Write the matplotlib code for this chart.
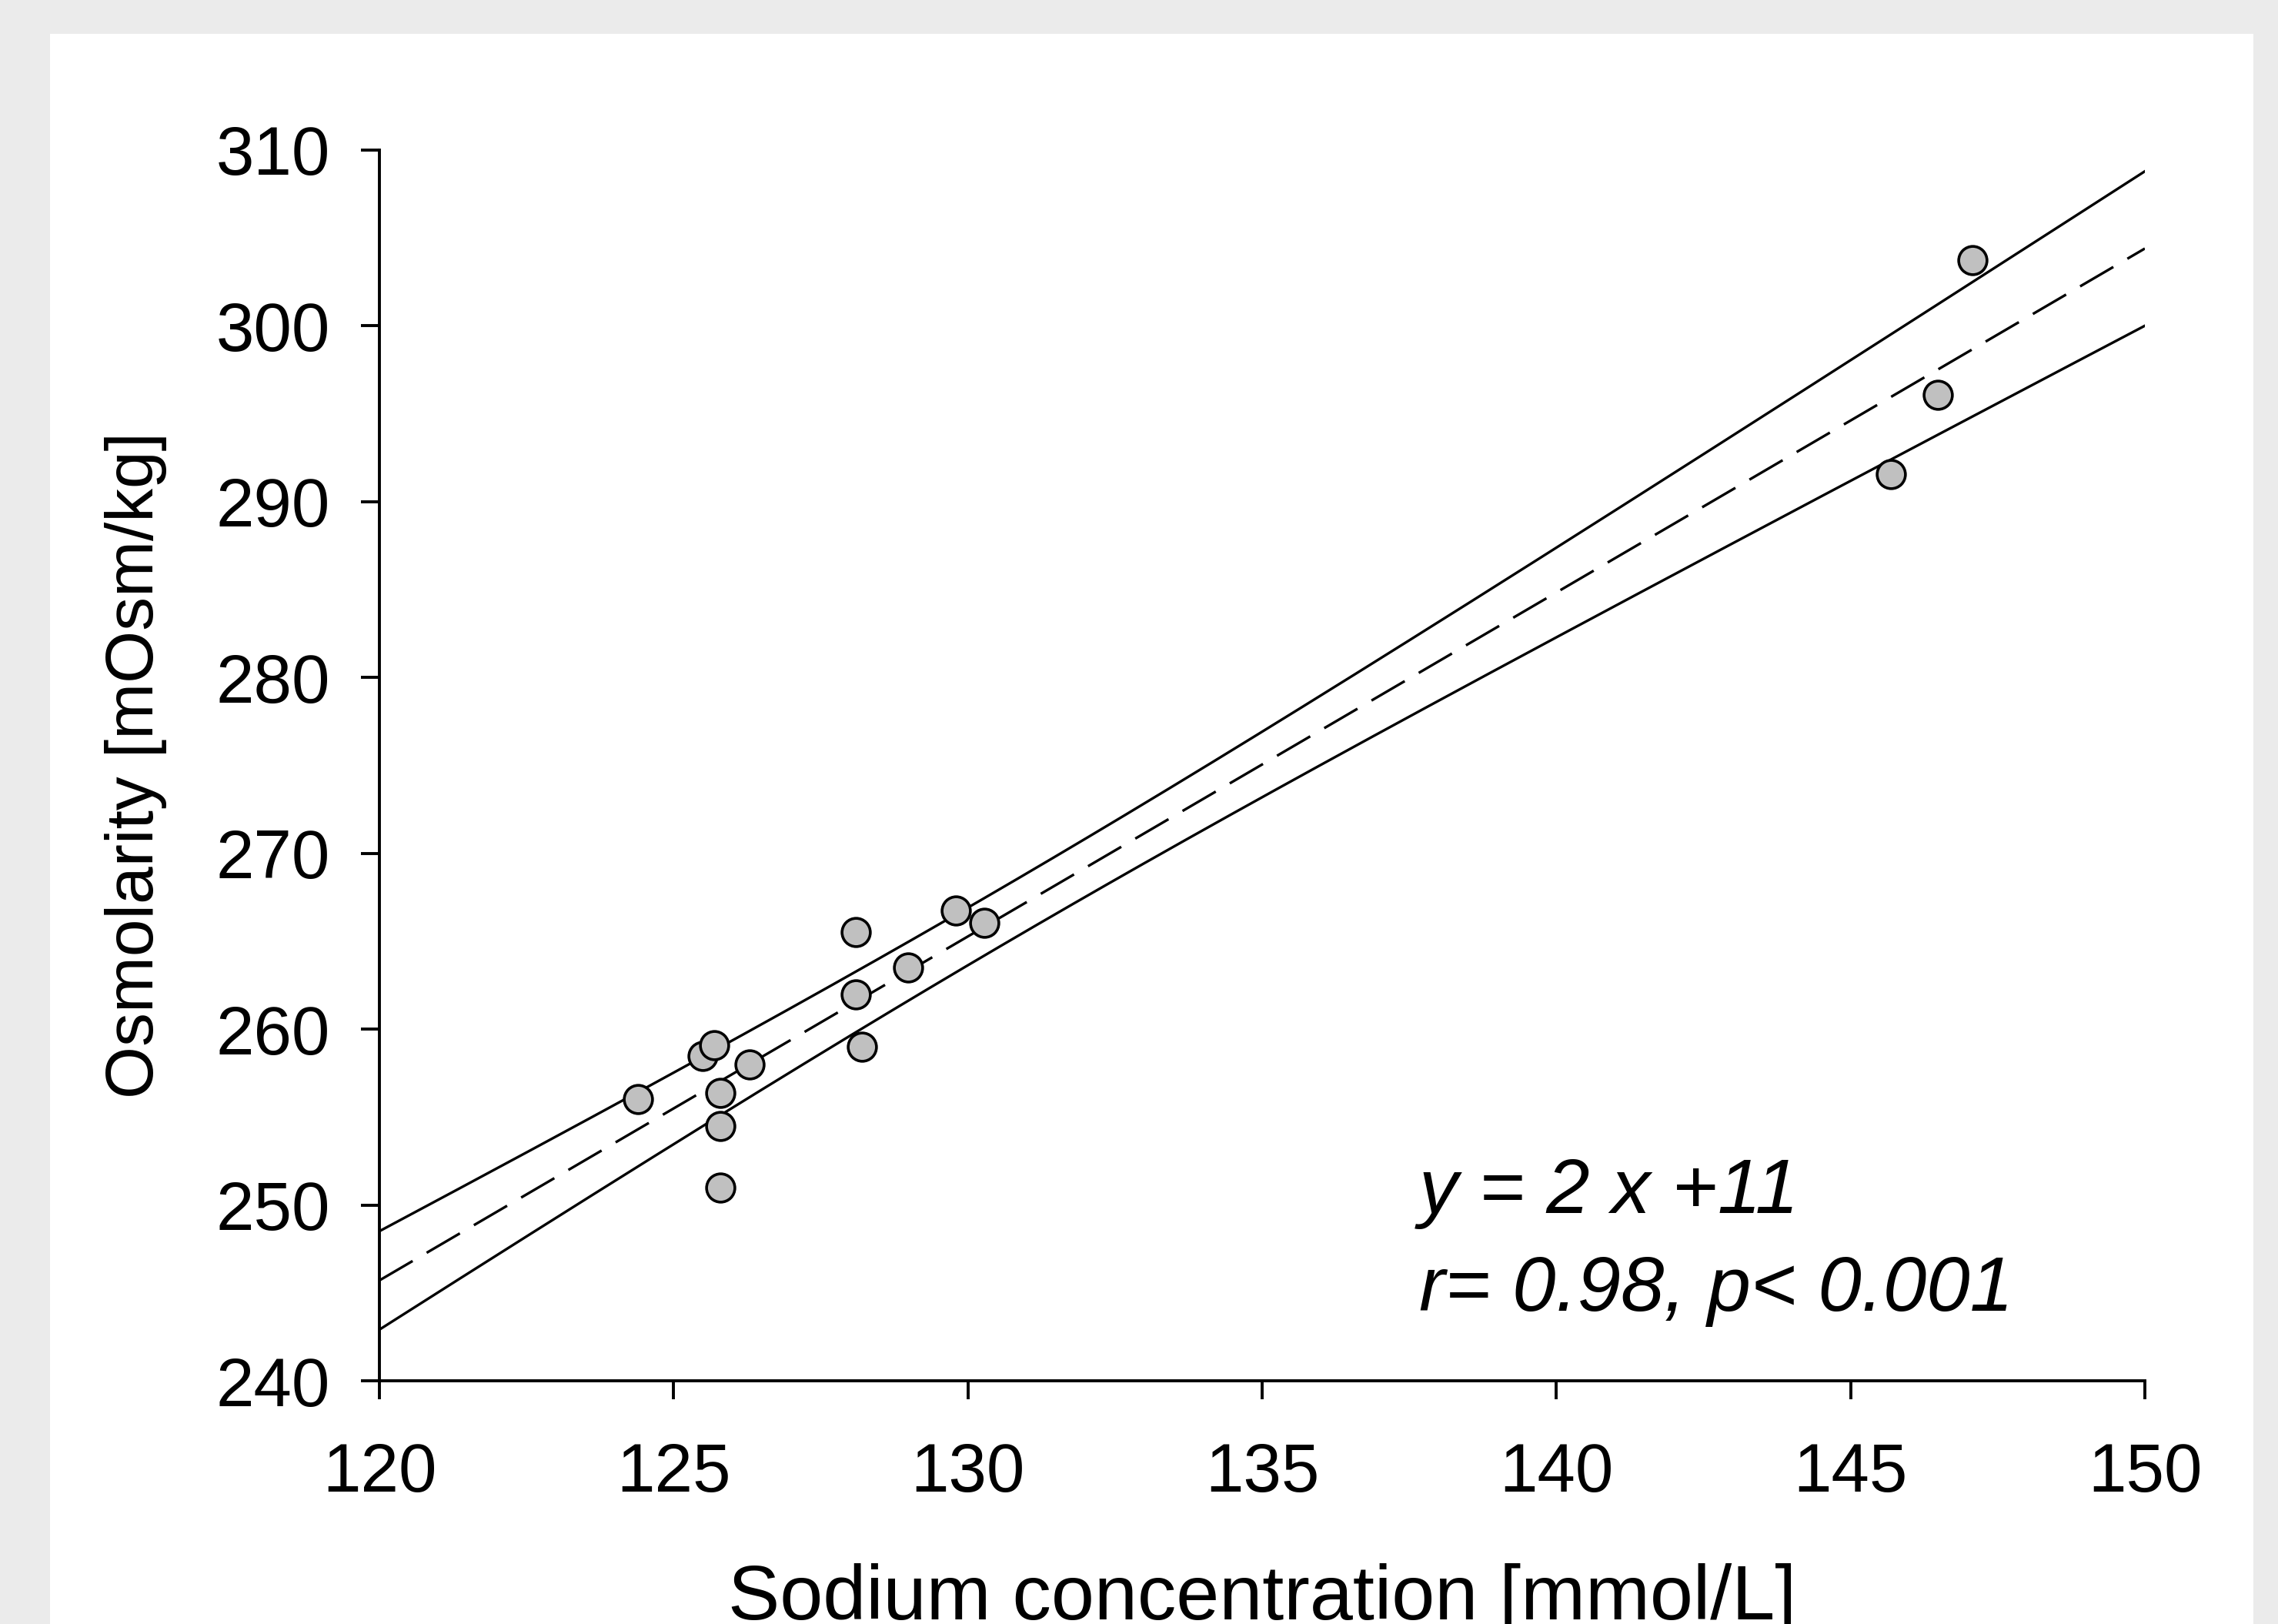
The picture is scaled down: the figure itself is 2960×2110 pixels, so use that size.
import matplotlib
matplotlib.use("Agg")
import matplotlib.pyplot as plt
import numpy as np
from matplotlib.patches import Rectangle

# sodium [mmol/L] vs osmolarity [mOsm/kg]
sodium = [124.39, 125.49, 125.69, 125.79, 125.79, 125.79, 126.29,
          128.09, 128.09, 128.20, 128.98, 129.79, 130.28,
          145.68, 146.48, 147.07]
osmolarity = [256.0, 258.48, 259.07, 256.37, 254.5, 251.0, 258.0,
              265.53, 261.98, 259.0, 263.51, 266.73, 266.03,
              291.55, 296.05, 303.7]

x_ticks = [120, 125, 130, 135, 140, 145, 150]
y_ticks = [240, 250, 260, 270, 280, 290, 300, 310]

equation_text = "y = 2 x +11"
stats_text = "r= 0.98, p< 0.001"

# linear fit + 95% confidence band of the mean
x = np.asarray(sodium)
y = np.asarray(osmolarity)
n = len(x)
slope, intercept = np.polyfit(x, y, 1)
resid = y - (slope * x + intercept)
s_err = np.sqrt(np.sum(resid ** 2) / (n - 2))
sxx = np.sum((x - x.mean()) ** 2)
t_val = 2.145  # t(0.975, df=14)

x_fit = np.linspace(x_ticks[0], x_ticks[-1], 200)
y_fit = slope * x_fit + intercept
half = t_val * s_err * np.sqrt(1. / n + (x_fit - x.mean()) ** 2 / sxx)

plt.rcParams["font.family"] = ["Liberation Sans", "DejaVu Sans"]

fig = plt.figure(figsize=(29.6, 21.1), dpi=100)
fig.patch.set_facecolor("#ebebeb")
fig.patches.append(Rectangle(
    (65 / 2960, 0), (2928 - 65) / 2960, (2110 - 44) / 2110,
    transform=fig.transFigure, facecolor="white", edgecolor="none",
    zorder=-10
))

ax = fig.add_axes([493 / 2960, 1 - 1794 / 2110, 2294 / 2960, 1599.5 / 2110])
ax.set_zorder(1)
ax.set_facecolor("none")

ax.plot(x_fit, y_fit + half, color="black", lw=2.4, zorder=2)
ax.plot(x_fit, y_fit - half, color="black", lw=2.4, zorder=2)
# gap tuned so the dashes meet both ends of the line
ax.plot(x_fit, y_fit, color="black", lw=2.4, ls=(0, (15, 6.33)), zorder=2)

ax.scatter(sodium, osmolarity, s=700, facecolor="#c0c0c0",
           edgecolor="black", linewidth=2.6, zorder=3, clip_on=False)

ax.set_xlim(x_ticks[0], x_ticks[-1])
ax.set_ylim(y_ticks[0], y_ticks[-1])
ax.set_xticks(x_ticks)
ax.set_yticks(y_ticks)

for side in ["top", "right"]:
    ax.spines[side].set_visible(False)
for side in ["left", "bottom"]:
    ax.spines[side].set_linewidth(2.8)

ax.tick_params(axis="both", direction="out", length=17, width=2.8,
               labelsize=64)
ax.tick_params(axis="x", pad=40)
ax.tick_params(axis="y", pad=29)

ax.set_xlabel("Sodium concentration [mmol/L]", fontsize=72.5)
ax.xaxis.set_label_coords(0.5, -0.148)
ax.set_ylabel("Osmolarity [mOsm/kg]", fontsize=63)
ax.yaxis.set_label_coords(-0.1203, 0.5)

ax.text(137.67, 249.55, equation_text, fontsize=73, style="italic",
        ha="left", va="baseline")
ax.text(137.67, 244.0, stats_text, fontsize=73, style="italic",
        ha="left", va="baseline")

fig.savefig("out.png", dpi=100, facecolor=fig.get_facecolor())
